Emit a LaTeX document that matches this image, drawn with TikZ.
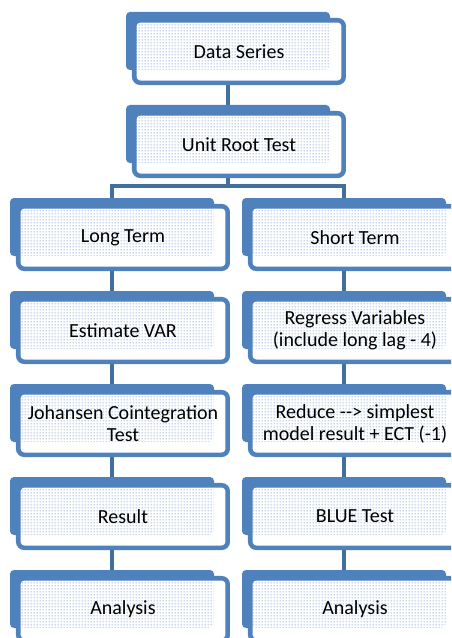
\documentclass[tikz,border=0pt]{standalone}
\usepackage{fontspec}
\setmainfont{Carlito}
\usetikzlibrary{patterns.meta}

\definecolor{boxblue}{HTML}{4F81BD}
\definecolor{linkblue}{HTML}{41709F}
\definecolor{dotblue}{HTML}{94B0DA}

% fine grid of small dots used inside the step boxes
\tikzdeclarepattern{
  name=boxdots,
  type=uncolored,
  bottom left={(0pt,0pt)},
  top right={(2.25pt,2.25pt)},
  tile size={(2.25pt,2.25pt)},
  code={\pgfpathcircle{\pgfqpoint{1.125pt}{1.125pt}}{0.7pt}\pgfusepath{fill}}
}

\pgfdeclarelayer{background}
\pgfsetlayers{background,main}

\begin{document}
\begin{tikzpicture}[x=0.75pt,y=-0.75pt,
  backbox/.style={fill=boxblue, rounded corners=3pt,
    minimum width=153pt, minimum height=43.5pt,
    inner sep=0pt, outer sep=0pt, anchor=north west},
  frontbox/.style={draw=boxblue, line width=3.4pt, fill=white,
    rounded corners=4.5pt,
    minimum width=157.1pt, minimum height=46.9pt,
    inner sep=0pt, outer sep=0pt, anchor=north west,
    align=center, font=\fontsize{15}{16.5}\selectfont,
    path picture={\fill[pattern=boxdots, pattern color=dotblue]
      (path picture bounding box.north west) rectangle (#1.south east);}},
  link/.style={draw=linkblue, line width=3.6pt}]

\useasboundingbox (0,0) rectangle (451,638);
\clip (0,0) rectangle (451,638);

% top row
\node[backbox] (bData) at (126,12) {};
\node[frontbox=bData] (fData) at (134.25,20.25) {Data Series};
\node[backbox] (bUnit) at (126,105) {};
\node[frontbox=bUnit] (fUnit) at (134.25,113.25) {Unit Root Test};

% long term branch
\node[backbox] (bLong) at (10,198) {};
\node[frontbox=bLong] (fLong) at (18.25,206.25) {Long Term};
\node[backbox] (bVar) at (10,291) {};
\node[frontbox=bVar] (fVar) at (18.25,299.25) {Estimate VAR};
\node[backbox] (bJoh) at (10,384) {};
\node[frontbox=bJoh] (fJoh) at (18.25,392.25) {Johansen Cointegration\\Test};
\node[backbox] (bRes) at (10,477) {};
\node[frontbox=bRes] (fRes) at (18.25,485.25) {Result};
\node[backbox] (bAnaL) at (10,570) {};
\node[frontbox=bAnaL] (fAnaL) at (18.25,578.25) {Analysis};

% short term branch
\node[backbox] (bShort) at (242,198) {};
\node[frontbox=bShort] (fShort) at (250.25,206.25) {Short Term};
\node[backbox] (bReg) at (242,291) {};
\node[frontbox=bReg] (fReg) at (250.25,299.25) {Regress Variables\\(include long lag - 4)};
\node[backbox] (bRed) at (242,384) {};
\node[frontbox=bRed] (fRed) at (250.25,392.25) {Reduce -{}-> simplest\\model result + ECT (-1)};
\node[backbox] (bBlue) at (242,477) {};
\node[frontbox=bBlue] (fBlue) at (250.25,485.25) {BLUE Test};
\node[backbox] (bAnaR) at (242,570) {};
\node[frontbox=bAnaR] (fAnaR) at (250.25,578.25) {Analysis};

% white page and connectors, behind the boxes
\begin{pgfonlayer}{background}
  \fill[white] (0,0) rectangle (451,638);
  \coordinate (split) at (228,186);
  \draw[link] (bData.center) -- (bUnit.center);
  \draw[link] (bUnit.center) -- (split);
  \draw[link] (split) -| (bLong.center);
  \draw[link] (split) -| (bShort.center);
  \draw[link] (bLong.center) -- (bVar.center);
  \draw[link] (bVar.center) -- (bJoh.center);
  \draw[link] (bJoh.center) -- (bRes.center);
  \draw[link] (bRes.center) -- (bAnaL.center);
  \draw[link] (bShort.center) -- (bReg.center);
  \draw[link] (bReg.center) -- (bRed.center);
  \draw[link] (bRed.center) -- (bBlue.center);
  \draw[link] (bBlue.center) -- (bAnaR.center);
\end{pgfonlayer}
\end{tikzpicture}
\end{document}
